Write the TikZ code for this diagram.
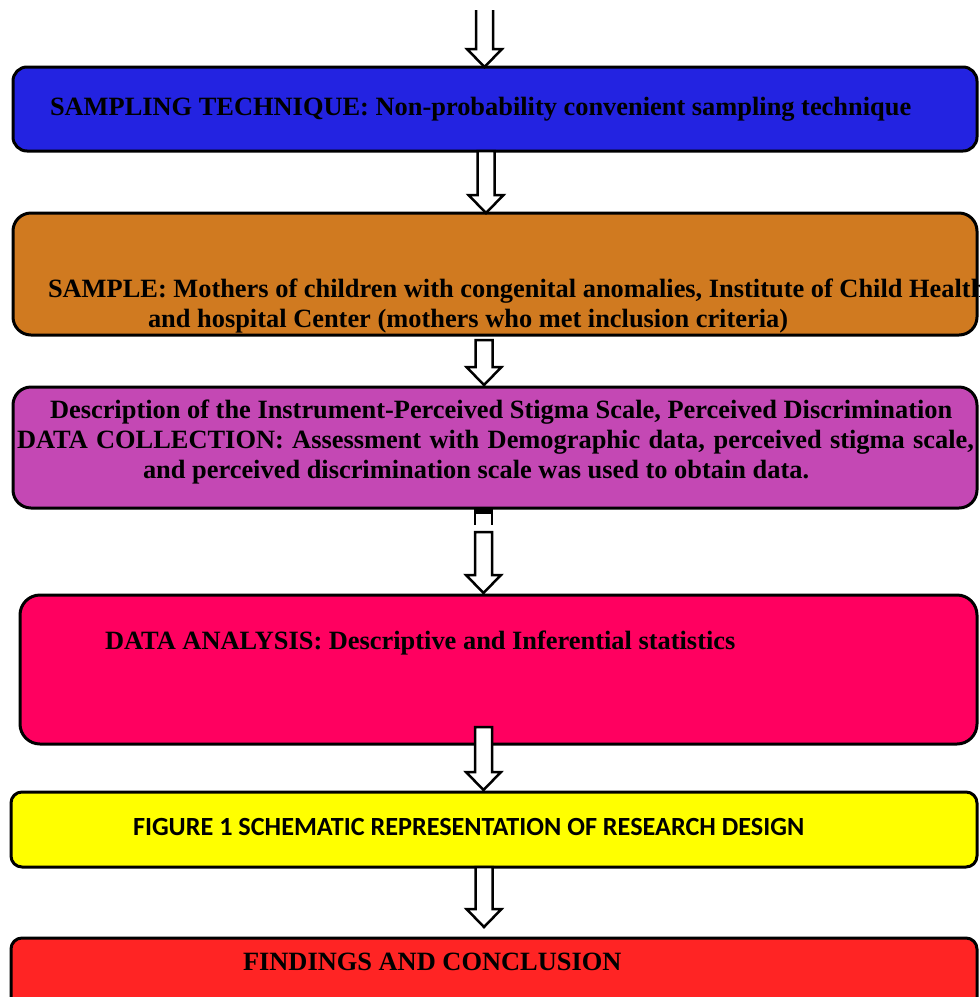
\documentclass[tikz,border=0pt]{standalone}
\usepackage{fontspec}
\setmainfont{Liberation Serif}
\newfontfamily\carlito{Carlito}
\usetikzlibrary{calc}
\definecolor{cblue}{RGB}{35,35,225}
\definecolor{corange}{RGB}{208,122,32}
\definecolor{cpurple}{RGB}{196,72,180}
\definecolor{cpink}{RGB}{255,0,96}
\definecolor{cyellow}{RGB}{255,255,0}
\definecolor{cred}{RGB}{255,36,36}
\tikzset{
  box/.style={draw=black, line width=3pt, inner sep=0pt, outer sep=0pt, anchor=north west},
  lbl/.style={anchor=base west, inner sep=0pt, outer sep=0pt, font=\bfseries\fontsize{26.4}{30}\selectfont},
  lblsans/.style={anchor=base west, inner sep=0pt, outer sep=0pt, font=\carlito\bfseries\fontsize{26.2}{30}\selectfont},
  hollow/.style={draw=black, fill=white, line width=2.5pt, line join=miter},
}
\newcommand\blockarr[2]{%
  \draw[hollow] ($(#1)+(-8.5,0)$) -- ($(#2)+(-8.5,-18)$) -- ($(#2)+(-17.5,-18)$) -- (#2)
    -- ($(#2)+(17.5,-18)$) -- ($(#2)+(8.5,-18)$) -- ($(#1)+(8.5,0)$) -- cycle;}
\newcommand\openarr[2]{%
  \fill[white] ($(#1)+(-8.5,0)$) -- ($(#2)+(-8.5,-18)$) -- ($(#2)+(-17.5,-18)$) -- (#2)
    -- ($(#2)+(17.5,-18)$) -- ($(#2)+(8.5,-18)$) -- ($(#1)+(8.5,0)$) -- cycle;
  \draw[hollow] ($(#1)+(-8.5,0)$) -- ($(#2)+(-8.5,-18)$) -- ($(#2)+(-17.5,-18)$) -- (#2)
    -- ($(#2)+(17.5,-18)$) -- ($(#2)+(8.5,-18)$) -- ($(#1)+(8.5,0)$);}
\begin{document}
\begin{tikzpicture}[x=1pt,y=-1pt]
\useasboundingbox (0,0) rectangle (980,997);
\clip (0,0) rectangle (980,997);
\fill[white] (0,0) rectangle (980,997);

% boxes
\node[box, fill=cblue, rounded corners=14pt, minimum width=964pt, minimum height=84pt] (blue) at (13,67) {};
\node[box, fill=corange, rounded corners=18pt, minimum width=964pt, minimum height=122pt] (orange) at (13,213) {};
\node[box, fill=cpurple, rounded corners=18pt, minimum width=964pt, minimum height=121pt] (purple) at (13,387) {};
\node[box, fill=cpink, rounded corners=20pt, minimum width=957pt, minimum height=149pt] (pink) at (20,595) {};
\node[box, fill=cyellow, rounded corners=11pt, minimum width=966pt, minimum height=75pt] (yellow) at (11,792) {};
\node[box, fill=cred, rounded corners=11pt, minimum width=966pt, minimum height=76pt] (red) at (11,938) {};

% texts
\node[lbl] (t1) at (50,115) {SAMPLING TECHNIQUE: Non-probability convenient sampling technique};
\node[lbl] (t2a) at (48,297) {SAMPLE: Mothers of children with congenital anomalies, Institute of Child Health};
\node[lbl] (t2b) at (148,327) {and hospital Center (mothers who met inclusion criteria)};
\node[lbl] (t3a) at (50,418) {Description of the Instrument-Perceived Stigma Scale, Perceived Discrimination};
\node[lbl] (t3b) at (17,448) {\makebox[957pt][s]{DATA COLLECTION: Assessment with Demographic data, perceived stigma scale,}};
\node[lbl] (t3c) at (143,478) {and perceived discrimination scale was used to obtain data.};
\node[lbl] (t4) at (105,649) {DATA ANALYSIS: Descriptive and Inferential statistics};
\node[lblsans] (t5) at (133,835) {FIGURE 1 SCHEMATIC REPRESENTATION OF RESEARCH DESIGN};
\node[lbl] (t6) at (243,970) {FINDINGS AND CONCLUSION};

% arrow columns
\coordinate (c0) at (484.5,0);
\coordinate (c1) at (486,0);
\coordinate (c2) at (484,0);
\coordinate (c3) at (483.5,0);
\coordinate (c4) at (483.5,0);
\coordinate (c5) at (484,0);

\coordinate (a0s) at (484.5,10);
\openarr{a0s}{blue.north -| c0}

\coordinate (a1s) at (blue.south -| c1);
\coordinate (a1e) at (orange.north -| c1);
\blockarr{a1s}{a1e}

\coordinate (a2s) at ($(orange.south -| c2)+(0,5)$);
\coordinate (a2e) at ($(purple.north -| c2)+(0,-2)$);
\blockarr{a2s}{a2e}

% stub below purple box
\coordinate (st) at (purple.south -| c3);
\fill[black] ($(st)+(-9.5,0)$) rectangle ($(st)+(9.5,6)$);
\draw[line width=2.5pt] ($(st)+(-8.5,0)$) -- ($(st)+(-8.5,17)$) ($(st)+(8.5,0)$) -- ($(st)+(8.5,17)$);

\coordinate (a3s) at ($(purple.south -| c3)+(0,24)$);
\coordinate (a3e) at ($(pink.north -| c3)+(0,-2)$);
\blockarr{a3s}{a3e}

\coordinate (a4s) at ($(pink.south -| c4)+(0,-17)$);
\coordinate (a4e) at ($(yellow.north -| c4)+(0,-2)$);
\blockarr{a4s}{a4e}

\coordinate (a5s) at (yellow.south -| c5);
\coordinate (a5e) at ($(red.north -| c5)+(0,-11)$);
\blockarr{a5s}{a5e}
\end{tikzpicture}
\end{document}
